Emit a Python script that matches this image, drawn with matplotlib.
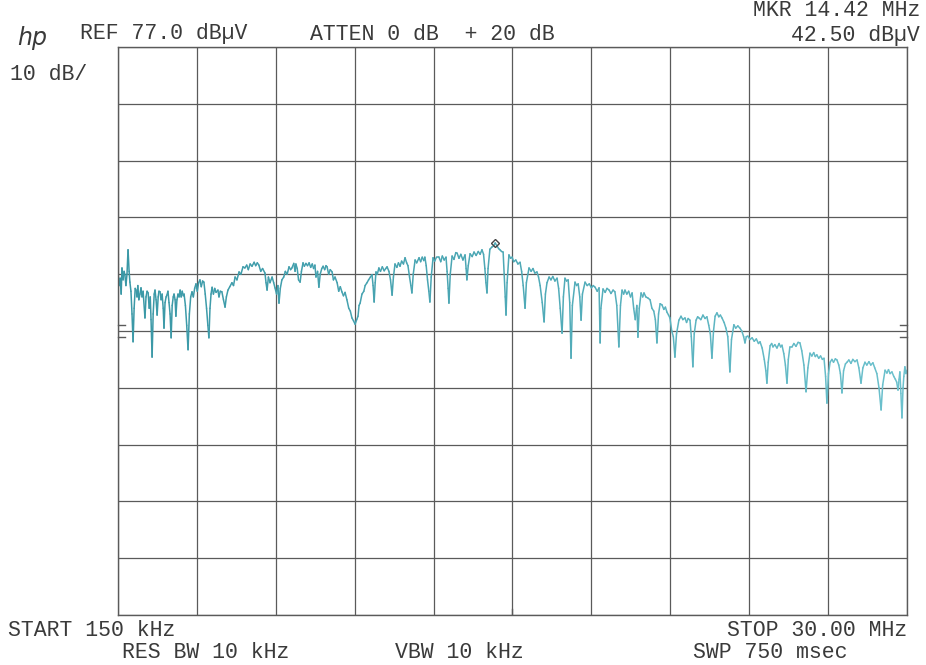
"""HP spectrum analyzer plot: conducted emission scan 150 kHz - 30 MHz."""
import matplotlib
matplotlib.use("Agg")
import matplotlib.pyplot as plt
import numpy as np
from matplotlib.collections import LineCollection
from matplotlib.colors import LinearSegmentedColormap

OUT_PATH = "out.png"

# instrument settings
REF_LEVEL = 77.0      # dBuV, top of screen
DB_PER_DIV = 10.0
START_MHZ = 0.15
STOP_MHZ = 30.0
MKR_FREQ = 14.42
MKR_LEVEL = 42.50
DISPLAY_MARKS = [28.0, 26.0]   # small ticks at the screen edges

# trace: (MHz, dBuV) pairs, in sweep order
trace = [
    (0.15, 37.4), (0.19, 35.0), (0.23, 36.3), (0.27, 33.5), (0.30, 38.1),
    (0.34, 36.0), (0.38, 37.5), (0.41, 36.9), (0.45, 35.0), (0.49, 37.0),
    (0.53, 41.3), (0.57, 37.5), (0.60, 35.6), (0.64, 34.0), (0.68, 30.0),
    (0.72, 25.1), (0.76, 31.0), (0.80, 34.5), (0.83, 34.2), (0.87, 33.0),
    (0.90, 35.0), (0.94, 32.5), (0.98, 33.5), (1.02, 34.6), (1.06, 33.0),
    (1.10, 34.0), (1.17, 29.3), (1.21, 33.0), (1.25, 34.0), (1.29, 33.7),
    (1.33, 31.0), (1.37, 33.0), (1.40, 29.0), (1.44, 22.4), (1.48, 30.0),
    (1.52, 33.5), (1.55, 34.2), (1.59, 32.5), (1.63, 29.8), (1.67, 33.0),
    (1.70, 34.0), (1.74, 33.9), (1.78, 32.5), (1.82, 33.5), (1.86, 31.0),
    (1.89, 27.5), (1.93, 32.0), (1.97, 33.0), (2.00, 33.3), (2.04, 34.0),
    (2.08, 32.0), (2.12, 30.0), (2.16, 25.8), (2.20, 31.5), (2.24, 33.0),
    (2.27, 33.5), (2.31, 32.5), (2.34, 29.6), (2.38, 32.5), (2.42, 33.5),
    (2.46, 33.0), (2.50, 34.2), (2.54, 33.0), (2.58, 34.0), (2.62, 33.2),
    (2.65, 33.5), (2.70, 31.5), (2.75, 28.0), (2.80, 23.7), (2.85, 30.0),
    (2.90, 33.0), (2.95, 33.9), (3.00, 33.0), (3.05, 34.5), (3.10, 35.3),
    (3.15, 34.0), (3.20, 35.5), (3.25, 36.0), (3.30, 34.8), (3.35, 35.8),
    (3.40, 35.6), (3.45, 33.5), (3.50, 31.0), (3.55, 28.0), (3.59, 25.8),
    (3.63, 31.0), (3.67, 33.5), (3.71, 34.7), (3.76, 33.5), (3.81, 34.5),
    (3.86, 33.8), (3.93, 34.2), (3.97, 33.0), (4.02, 34.0), (4.08, 33.9),
    (4.14, 32.5), (4.20, 31.2), (4.25, 33.0), (4.31, 34.2), (4.38, 34.8),
    (4.46, 35.5), (4.52, 35.0), (4.58, 36.5), (4.65, 36.0), (4.73, 37.4),
    (4.80, 37.0), (4.88, 38.3), (4.95, 38.1), (5.02, 38.6), (5.08, 37.8),
    (5.15, 38.8), (5.22, 38.4), (5.30, 39.1), (5.36, 38.5), (5.42, 39.0),
    (5.48, 38.6), (5.55, 37.5), (5.62, 38.0), (5.71, 37.2), (5.75, 35.5),
    (5.79, 34.2), (5.84, 36.5), (5.90, 35.5), (5.98, 36.5), (6.04, 35.5),
    (6.09, 34.6), (6.15, 33.5), (6.20, 35.0), (6.24, 31.9), (6.29, 34.5),
    (6.35, 36.0), (6.42, 36.5), (6.48, 37.5), (6.55, 37.0), (6.62, 38.3),
    (6.68, 37.8), (6.73, 38.1), (6.80, 38.9), (6.85, 37.5), (6.88, 38.8),
    (6.93, 38.0), (6.98, 36.0), (7.04, 35.6), (7.09, 37.5), (7.15, 39.0),
    (7.20, 38.4), (7.26, 38.9), (7.32, 38.5), (7.38, 39.0), (7.44, 38.2),
    (7.50, 38.8), (7.55, 38.0), (7.60, 38.6), (7.64, 36.5), (7.70, 37.5),
    (7.75, 34.7), (7.80, 37.0), (7.86, 38.0), (7.91, 38.4), (7.97, 37.8),
    (8.02, 38.5), (8.06, 38.3), (8.12, 37.0), (8.18, 37.8), (8.25, 37.4),
    (8.30, 36.0), (8.36, 36.5), (8.44, 35.5), (8.50, 34.0), (8.56, 34.8),
    (8.62, 33.9), (8.68, 33.2), (8.74, 33.8), (8.81, 32.5), (8.88, 31.0),
    (8.94, 30.5), (9.00, 29.3), (9.06, 28.8), (9.12, 28.2), (9.18, 29.0),
    (9.23, 29.6), (9.27, 31.5), (9.31, 31.9), (9.38, 33.5), (9.45, 34.0),
    (9.50, 35.0), (9.57, 35.5), (9.63, 36.0), (9.70, 36.5), (9.76, 36.9),
    (9.80, 35.0), (9.84, 32.1), (9.88, 35.5), (9.91, 37.4), (9.96, 37.0),
    (10.02, 38.1), (10.08, 37.5), (10.15, 38.3), (10.22, 37.6), (10.28, 38.0),
    (10.33, 38.3), (10.40, 37.5), (10.46, 36.0), (10.52, 33.3), (10.57, 36.5),
    (10.63, 38.8), (10.70, 38.2), (10.76, 39.0), (10.82, 38.4), (10.88, 39.3),
    (10.95, 38.8), (11.01, 39.9), (11.07, 39.0), (11.12, 38.5), (11.18, 36.5),
    (11.23, 35.0), (11.27, 33.7), (11.32, 37.0), (11.39, 39.5), (11.45, 39.0),
    (11.54, 39.9), (11.60, 39.2), (11.66, 40.0), (11.72, 39.4), (11.76, 40.0),
    (11.81, 38.5), (11.86, 36.0), (11.91, 34.0), (11.95, 32.1), (12.00, 36.5),
    (12.07, 39.9), (12.13, 39.3), (12.20, 40.0), (12.29, 40.0), (12.36, 39.2),
    (12.42, 40.2), (12.49, 39.5), (12.56, 40.0), (12.60, 37.5), (12.64, 34.5),
    (12.67, 31.9), (12.72, 37.0), (12.79, 40.2), (12.86, 39.6), (12.93, 40.8),
    (12.98, 40.7), (13.05, 39.8), (13.12, 40.5), (13.20, 39.5), (13.28, 40.4),
    (13.32, 38.0), (13.35, 36.0), (13.40, 38.5), (13.47, 40.6), (13.55, 40.1),
    (13.62, 40.9), (13.70, 40.3), (13.78, 41.0), (13.85, 40.5), (13.92, 41.3),
    (13.98, 40.5), (14.03, 38.0), (14.07, 35.5), (14.11, 33.7), (14.15, 38.0),
    (14.22, 41.4), (14.30, 41.8), (14.36, 42.0), (14.42, 42.5), (14.50, 41.9),
    (14.55, 41.5), (14.60, 41.3), (14.66, 41.0), (14.72, 40.9), (14.76, 37.0),
    (14.80, 33.0), (14.83, 29.8), (14.87, 35.5), (14.94, 40.4), (15.00, 39.8),
    (15.06, 40.0), (15.12, 39.2), (15.20, 39.5), (15.28, 38.8), (15.36, 39.1),
    (15.42, 37.5), (15.48, 35.0), (15.55, 31.0), (15.60, 35.5), (15.70, 38.1),
    (15.78, 37.5), (15.85, 38.0), (15.92, 37.2), (16.00, 37.4), (16.06, 36.5),
    (16.12, 35.0), (16.20, 32.0), (16.27, 28.6), (16.32, 33.5), (16.38, 35.5),
    (16.46, 36.5), (16.53, 36.0), (16.60, 36.6), (16.68, 35.8), (16.76, 36.3),
    (16.82, 34.5), (16.88, 31.0), (16.95, 26.6), (17.00, 33.0), (17.06, 36.3),
    (17.12, 35.8), (17.18, 36.0), (17.24, 32.0), (17.29, 22.2), (17.34, 31.5),
    (17.44, 35.6), (17.50, 35.0), (17.56, 35.3), (17.62, 33.0), (17.67, 28.9),
    (17.72, 33.5), (17.82, 35.6), (17.90, 35.0), (17.98, 35.3), (18.06, 34.6),
    (18.13, 35.0), (18.20, 34.7), (18.28, 34.0), (18.35, 34.6), (18.37, 30.0),
    (18.39, 24.9), (18.42, 31.0), (18.50, 34.4), (18.58, 33.8), (18.65, 34.5),
    (18.73, 34.2), (18.80, 33.6), (18.88, 34.2), (18.95, 33.9), (19.02, 31.5),
    (19.10, 24.2), (19.16, 31.5), (19.22, 34.2), (19.28, 33.5), (19.33, 34.2),
    (19.40, 33.5), (19.47, 34.0), (19.54, 33.0), (19.60, 33.7), (19.66, 31.0),
    (19.72, 29.0), (19.78, 31.5), (19.82, 25.9), (19.87, 31.0), (19.94, 33.7),
    (20.00, 33.0), (20.05, 33.7), (20.12, 33.0), (20.20, 32.8), (20.28, 32.5),
    (20.35, 31.0), (20.42, 30.5), (20.48, 29.0), (20.54, 24.9), (20.60, 30.0),
    (20.66, 31.8), (20.73, 31.6), (20.80, 30.8), (20.86, 31.2), (20.92, 30.3),
    (20.98, 29.8), (21.03, 29.3), (21.10, 27.0), (21.16, 26.0), (21.22, 22.4),
    (21.28, 26.5), (21.37, 28.9), (21.45, 29.6), (21.52, 29.0), (21.60, 29.3),
    (21.66, 28.5), (21.72, 29.2), (21.79, 28.9), (21.84, 26.0), (21.90, 20.7),
    (21.95, 26.5), (22.02, 28.9), (22.08, 29.5), (22.13, 29.3), (22.20, 29.0),
    (22.28, 29.8), (22.36, 29.2), (22.43, 29.5), (22.50, 28.0), (22.56, 26.5),
    (22.62, 22.2), (22.68, 27.0), (22.74, 29.6), (22.81, 30.2), (22.88, 29.5),
    (22.94, 29.8), (23.00, 29.3), (23.08, 28.5), (23.15, 27.5), (23.22, 26.0),
    (23.30, 19.8), (23.36, 25.5), (23.45, 28.1), (23.52, 27.5), (23.60, 27.9),
    (23.68, 27.5), (23.75, 27.0), (23.82, 26.0), (23.87, 24.9), (23.92, 26.0),
    (23.98, 26.1), (24.06, 25.5), (24.14, 25.8), (24.22, 25.2), (24.30, 25.6),
    (24.38, 24.8), (24.44, 25.1), (24.52, 24.0), (24.60, 22.0), (24.66, 20.0),
    (24.70, 17.8), (24.75, 21.5), (24.82, 24.4), (24.88, 24.8), (24.93, 24.2),
    (25.00, 24.6), (25.08, 24.0), (25.16, 24.8), (25.22, 24.2), (25.27, 24.5),
    (25.34, 23.0), (25.40, 21.0), (25.46, 17.8), (25.51, 22.0), (25.57, 24.2),
    (25.65, 24.2), (25.72, 24.8), (25.80, 24.3), (25.88, 25.0), (25.95, 24.9),
    (26.02, 23.5), (26.10, 21.0), (26.18, 16.3), (26.25, 20.5), (26.33, 23.1),
    (26.40, 22.6), (26.47, 23.2), (26.53, 22.5), (26.59, 22.8), (26.66, 22.2),
    (26.73, 22.6), (26.80, 22.0), (26.86, 22.2), (26.92, 19.0), (26.97, 14.3),
    (27.03, 19.5), (27.09, 21.5), (27.16, 22.0), (27.22, 21.5), (27.29, 22.1),
    (27.35, 21.9), (27.42, 21.0), (27.48, 19.5), (27.54, 16.1), (27.60, 20.0),
    (27.67, 21.2), (27.73, 21.5), (27.80, 21.9), (27.88, 21.3), (27.95, 22.0),
    (28.03, 21.6), (28.11, 21.9), (28.18, 20.5), (28.26, 17.8), (28.33, 20.5),
    (28.41, 21.5), (28.48, 21.0), (28.56, 21.6), (28.63, 21.0), (28.71, 21.4),
    (28.78, 20.5), (28.86, 19.5), (28.94, 17.0), (29.02, 13.1), (29.08, 17.5),
    (29.17, 20.1), (29.24, 19.6), (29.30, 20.2), (29.36, 19.5), (29.43, 19.8),
    (29.50, 19.0), (29.56, 18.5), (29.61, 18.0), (29.66, 16.6), (29.70, 18.5),
    (29.73, 19.8), (29.77, 16.0), (29.81, 11.7), (29.85, 17.0), (29.88, 19.0),
    (29.92, 20.7), (29.96, 19.5), (30.00, 20.1),
]
freq = np.array([p[0] for p in trace])
level = np.array([p[1] for p in trace])

TEXT = "#3a3a3a"
GRID = "#5a5a5a"
MONO = ["Liberation Mono"]
# the printed trace fades from teal (left) to a lighter cyan (right)
trace_cmap = LinearSegmentedColormap.from_list("trace", ["#3a98a6", "#4ea9b6", "#6cc1cd"])

fig = plt.figure(figsize=(9.26, 6.65), dpi=100)
ax = fig.add_axes([118 / 926, 1 - 615 / 665, 789 / 926, 568 / 665])

bottom = REF_LEVEL - 10 * DB_PER_DIV
ax.set_xlim(START_MHZ, STOP_MHZ)
ax.set_ylim(bottom, REF_LEVEL)
ax.set_xticks(np.linspace(START_MHZ, STOP_MHZ, 11))
ax.set_yticks(np.linspace(bottom, REF_LEVEL, 11))
ax.tick_params(length=0, labelbottom=False, labelleft=False)
ax.grid(True, color=GRID, linewidth=0.9)
for sp in ax.spines.values():
    sp.set_color(GRID)
    sp.set_linewidth(1.0)

pts = np.column_stack([freq, level]).reshape(-1, 1, 2)
segs = np.concatenate([pts[:-1], pts[1:]], axis=1)
lc = LineCollection(segs, cmap=trace_cmap, linewidths=1.1, capstyle="round")
lc.set_array((freq[:-1] - START_MHZ) / (STOP_MHZ - START_MHZ))
lc.set_clim(0, 1)
ax.add_collection(lc)

# marker diamond at the peak
ax.plot([MKR_FREQ], [MKR_LEVEL], marker="D", markersize=4,
        markerfacecolor="none", markeredgecolor="#444444", markeredgewidth=1)

# display-line ticks on both screen edges
for v in DISPLAY_MARKS:
    ax.plot([0, 0.009], [v, v], color=GRID, lw=1,
            transform=ax.get_yaxis_transform(), clip_on=False)
    ax.plot([0.991, 1], [v, v], color=GRID, lw=1,
            transform=ax.get_yaxis_transform(), clip_on=False)
# small tick at the bottom under the marker
ax.plot([15.05, 15.05], [0, 0.01], color=GRID, lw=1,
        transform=ax.get_xaxis_transform())


def ftext(x, y, s, ha="left", **kw):
    # annotation texts, placed in figure pixels
    fig.text(x / 926, 1 - y / 665, s, ha=ha, va="center", color=TEXT,
             family=MONO, fontsize=15.5, **kw)


fig.text(17 / 926, 1 - 38 / 665, "hp", ha="left", va="center", color=TEXT,
         family=["DejaVu Sans"], fontsize=17, style="italic")
ftext(80, 34, "REF 77.0 dBµV")
ftext(310, 34, "ATTEN 0 dB  + 20 dB")
ftext(920, 11, "MKR 14.42 MHz", ha="right")
ftext(920, 36, "42.50 dBµV", ha="right")
ftext(10, 74, "10 dB/")
ftext(8, 630, "START 150 kHz")
ftext(907, 630, "STOP 30.00 MHz", ha="right")
ftext(122, 653, "RES BW 10 kHz")
ftext(395, 653, "VBW 10 kHz")
ftext(693, 653, "SWP 750 msec")

fig.savefig(OUT_PATH, dpi=100)
